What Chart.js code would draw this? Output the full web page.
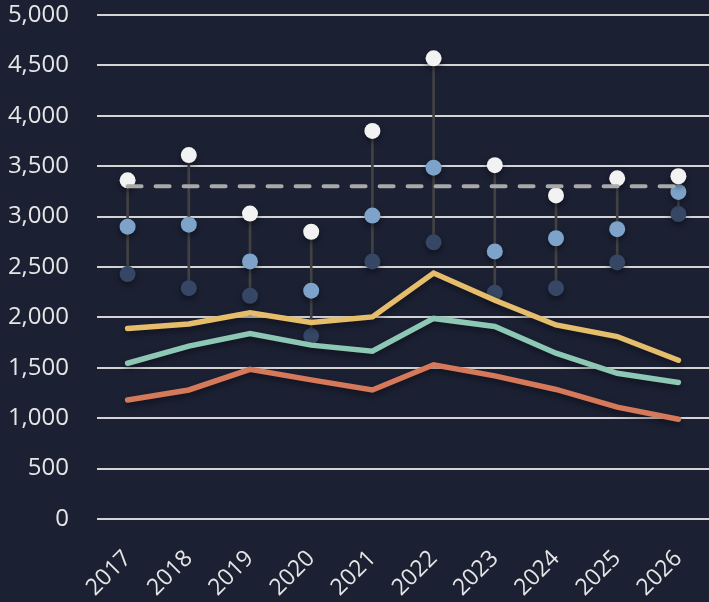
<!DOCTYPE html>
<html>
<head>
<meta charset="utf-8">
<script src="https://cdn.jsdelivr.net/npm/chart.js@4"></script>
<style>
  html, body { margin: 0; padding: 0; background: #1b2033; }
  .wrap { width: 709px; height: 602px; position: relative; }
</style>
</head>
<body>
<div class="wrap"><canvas id="chart"></canvas></div>
<script>
// categories and values
const years = ['2017', '2018', '2019', '2020', '2021', '2022', '2023', '2024', '2025', '2026'];

const highVals = [3360, 3610, 3030, 2850, 3850, 4570, 3510, 3210, 3380, 3400];
const midVals  = [2900, 2920, 2555, 2265, 3010, 3485, 2655, 2785, 2875, 3245];
const lowVals  = [2430, 2290, 2215, 1815, 2555, 2745, 2245, 2290, 2545, 3025];

const yellowVals = [1890, 1935, 2045, 1950, 2005, 2440, 2170, 1925, 1810, 1575];
const tealVals   = [1545, 1715, 1840, 1725, 1665, 1990, 1910, 1645, 1445, 1355];
const redVals    = [1180, 1280, 1485, 1380, 1280, 1530, 1420, 1285, 1110, 990];

const targetVal = 3300;

const yTicks = [0, 500, 1000, 1500, 2000, 2500, 3000, 3500, 4000, 4500, 5000];

const textColor = '#e6e6e6';
const fontFamily = '"Open Sans", "Noto Sans", sans-serif';

// soft drop shadow under the dots and lines
const shadowPlugin = {
    id: 'shadow',
    beforeDatasetDraw(chart, args) {
        const ds = chart.data.datasets[args.index];
        if (!ds.shadow) return;
        const ctx = chart.ctx;
        ctx.save();
        ctx.shadowColor = 'rgba(0, 0, 0, 0.45)';
        ctx.shadowBlur = 6;
        ctx.shadowOffsetY = 3;
    },
    afterDatasetDraw(chart, args) {
        const ds = chart.data.datasets[args.index];
        if (!ds.shadow) return;
        chart.ctx.restore();
    }
};

const dotSet = (data, color, order) => ({
    type: 'line',
    data: data,
    showLine: false,
    pointRadius: 8,
    pointHoverRadius: 8,
    pointBackgroundColor: color,
    pointBorderWidth: 0,
    borderColor: color,
    shadow: true,
    clip: false,
    order: order
});

const lineSet = (data, color, order) => ({
    type: 'line',
    data: data,
    borderColor: color,
    borderWidth: 5.5,
    pointRadius: 0,
    tension: 0,
    borderCapStyle: 'round',
    fill: false,
    shadow: true,
    clip: false,
    order: order
});

const ctx = document.getElementById('chart').getContext('2d');
const chart = new Chart(ctx, {
    data: {
        labels: years,
        datasets: [
            lineSet(yellowVals, '#e6bd6b', 1),
            lineSet(tealVals, '#8dc8b5', 2),
            lineSet(redVals, '#d6795a', 3),
            {
                type: 'line',
                data: years.map(() => targetVal),
                borderColor: '#a9a9a9',
                borderWidth: 4,
                borderDash: [14, 14],
                borderCapStyle: 'round',
                pointRadius: 0,
                order: 4
            },
            dotSet(highVals, '#f2f2f2', 5),
            dotSet(midVals, '#7ea3ca', 6),
            dotSet(lowVals, '#354765', 7),
            {
                type: 'bar',
                data: years.map((y, i) => [lowVals[i], highVals[i]]),
                backgroundColor: '#424242',
                barThickness: 2,
                order: 8
            }
        ]
    },
    options: {
        responsive: true,
        maintainAspectRatio: false,
        animation: false,
        layout: { padding: 0, autoPadding: false },
        plugins: {
            legend: { display: false },
            tooltip: { enabled: false }
        },
        scales: {
            x: {
                offset: true,
                grid: { display: false, drawTicks: false },
                border: { display: false },
                afterFit: (s) => {
                    s.height = 83;
                    s.paddingLeft = 0;
                    s.paddingRight = 0;
                },
                ticks: {
                    color: textColor,
                    font: { family: fontFamily, size: 23 },
                    minRotation: 45,
                    maxRotation: 45,
                    padding: 26
                }
            },
            y: {
                min: 0,
                max: 5000,
                afterFit: (s) => {
                    s.width = 97;
                    s.paddingTop = 15;
                    s.paddingBottom = 0;
                },
                afterBuildTicks: (s) => { s.ticks = yTicks.map(v => ({ value: v })); },
                grid: { color: '#d4d4d4', lineWidth: 2, drawTicks: false },
                border: { display: false },
                ticks: {
                    color: textColor,
                    font: { family: fontFamily, size: 24 },
                    padding: 28,
                    callback: (v) => v.toLocaleString('en-US')
                }
            }
        }
    },
    plugins: [shadowPlugin]
});
</script>
</body>
</html>
